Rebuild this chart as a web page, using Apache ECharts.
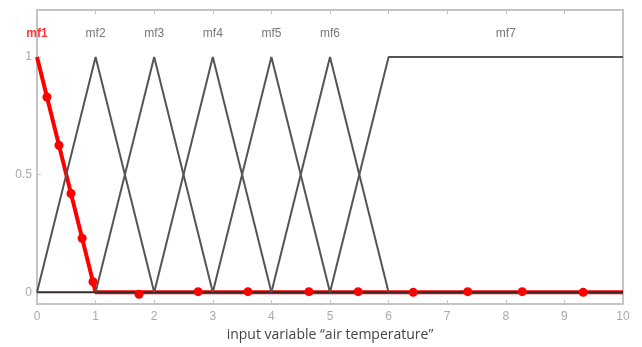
<!DOCTYPE html>
<html>
<head>
<meta charset="utf-8">
<script src="https://cdn.jsdelivr.net/npm/echarts@6/dist/echarts.min.js"></script>
<style>
  html, body { margin: 0; padding: 0; background: #fff; }
  #chart { width: 642px; height: 347px; }
</style>
</head>
<body>
<div id="chart"></div>
<script>
// membership functions (x, y) corners
const mf2 = [[0, 0], [1, 1], [2, 0]];
const mf3 = [[1, 0], [2, 1], [3, 0]];
const mf4 = [[2, 0], [3, 1], [4, 0]];
const mf5 = [[3, 0], [4, 1], [5, 0]];
const mf6 = [[4, 0], [5, 1], [6, 0]];
const mf7 = [[5, 0], [6, 1], [10, 1]];
const zeroLine = [[0, 0], [10, 0]];

// mf1 (highlighted) shape and sample points
const mf1Line = [[0, 1], [1, 0], [10, 0]];
const mf1Points = [
  [0.17, 0.83], [0.375, 0.625], [0.58, 0.42], [0.77, 0.23], [0.955, 0.045],
  [1.74, -0.008], [2.75, 0.003], [3.6, 0.003], [4.64, 0.003], [5.48, 0.003],
  [6.42, 0], [7.35, 0.003], [8.28, 0.003], [9.32, 0]
];

const mfNames = ["mf1", "mf2", "mf3", "mf4", "mf5", "mf6", "mf7"];
const mfLabelX = [0, 1, 2, 3, 4, 5, 8];
const mfLabelY = 1.1;
const yTicks = [0, 0.5, 1];

const chart = echarts.init(document.getElementById("chart"));

const grey = "#555";
const axisGrey = "#c4c4c4";

function greyLine(data, color) {
  return {
    type: "line",
    data: data,
    showSymbol: false,
    lineStyle: { color: color || grey, width: 2 },
    z: 3,
    silent: true
  };
}

const mfLabelData = mfLabelX.map((x, i) => ({
  value: [x, mfLabelY],
  name: mfNames[i],
  label: {
    color: i === 0 ? "#ff0000" : grey,
    fontWeight: i === 0 ? "bold" : "normal"
  }
}));

const option = {
  animation: false,
  grid: { left: 37, right: 19, top: 10, bottom: 39 },
  xAxis: [
    {
      type: "value",
      min: 0,
      max: 10,
      interval: 1,
      name: "input variable \u201cair temperature\u201d",
      nameLocation: "middle",
      nameGap: 23,
      nameTextStyle: { color: "#444", fontSize: 14, fontFamily: "Open Sans" },
      axisLine: { onZero: false, lineStyle: { color: axisGrey, width: 2 } },
      axisTick: { inside: true, length: 4, lineStyle: { color: axisGrey } },
      axisLabel: { color: "#aaa", fontSize: 12, margin: 7 },
      splitLine: { show: false }
    },
    {
      type: "value",
      position: "top",
      min: 0,
      max: 10,
      interval: 1,
      axisLine: { show: true, onZero: false, lineStyle: { color: axisGrey, width: 2 } },
      axisTick: { show: true, inside: true, length: 4, lineStyle: { color: axisGrey } },
      axisLabel: { show: false },
      splitLine: { show: false }
    }
  ],
  yAxis: [
    {
      type: "value",
      min: -0.05,
      max: 1.2,
      axisLine: { show: true, onZero: false, lineStyle: { color: axisGrey, width: 2 } },
      axisTick: { show: true, inside: true, length: 4, customValues: yTicks, lineStyle: { color: axisGrey } },
      axisLabel: { color: "#aaa", fontSize: 12, margin: 5, customValues: yTicks },
      splitLine: { show: false }
    },
    {
      type: "value",
      position: "right",
      min: -0.05,
      max: 1.2,
      axisLine: { show: true, onZero: false, lineStyle: { color: axisGrey, width: 2 } },
      axisTick: { show: false },
      axisLabel: { show: false },
      splitLine: { show: false }
    }
  ],
  series: [
    {
      type: "line",
      data: mf1Line,
      showSymbol: false,
      lineStyle: { color: "#ff0000", width: 4 },
      z: 2,
      silent: true
    },
    greyLine(zeroLine, "#3a2a2a"),
    greyLine(mf2),
    greyLine(mf3),
    greyLine(mf4),
    greyLine(mf5),
    greyLine(mf6),
    greyLine(mf7),
    {
      type: "scatter",
      data: mf1Points,
      symbolSize: 9,
      itemStyle: { color: "#ff0000", opacity: 1 },
      z: 5,
      silent: true
    },
    {
      type: "scatter",
      data: mfLabelData,
      symbolSize: 1,
      itemStyle: { color: "rgba(0,0,0,0)" },
      z: 6,
      silent: true,
      label: {
        show: true,
        position: "inside",
        formatter: "{b}",
        fontSize: 12,
        fontFamily: "Liberation Sans"
      }
    }
  ]
};

chart.setOption(option);
</script>
</body>
</html>
